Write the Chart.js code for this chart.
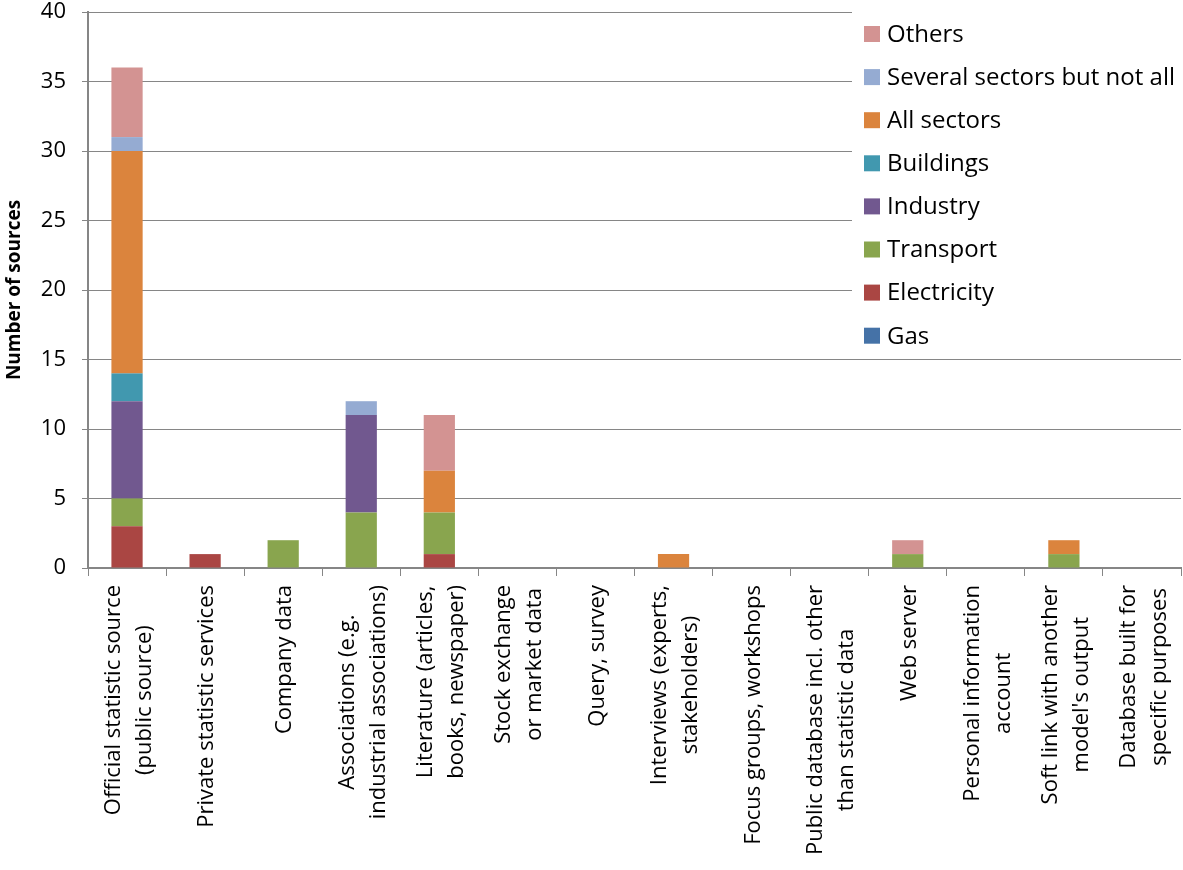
<!DOCTYPE html>
<html>
<head>
<meta charset="utf-8">
<script src="https://cdn.jsdelivr.net/npm/chart.js@4/dist/chart.umd.min.js"></script>
<style>
  html, body { margin: 0; padding: 0; background: #fff; }
  #wrap { width: 1183px; height: 870px; }
</style>
</head>
<body>
<div id="wrap"><canvas id="sources" width="1183" height="870"></canvas></div>
<script>
// categories (multi-line labels)
const categories = [
  ['Official statistic source', '(public source)'],
  ['Private statistic services'],
  ['Company data'],
  ['Associations (e.g.', 'industrial associations)'],
  ['Literature (articles,', 'books, newspaper)'],
  ['Stock exchange', 'or market data'],
  ['Query, survey'],
  ['Interviews (experts,', 'stakeholders)'],
  ['Focus groups, workshops'],
  ['Public database incl. other', 'than statistic data'],
  ['Web server'],
  ['Personal information', 'account'],
  ['Soft link with another', "model's output"],
  ['Database built for', 'specific purposes']
];

const gas         = [0, 0, 0, 0, 0, 0, 0, 0, 0, 0, 0, 0, 0, 0];
const electricity = [3, 1, 0, 0, 1, 0, 0, 0, 0, 0, 0, 0, 0, 0];
const transport   = [2, 0, 2, 4, 3, 0, 0, 0, 0, 0, 1, 0, 1, 0];
const industry    = [7, 0, 0, 7, 0, 0, 0, 0, 0, 0, 0, 0, 0, 0];
const buildings   = [2, 0, 0, 0, 0, 0, 0, 0, 0, 0, 0, 0, 0, 0];
const allSectors  = [16, 0, 0, 0, 3, 0, 0, 1, 0, 0, 0, 0, 1, 0];
const several     = [1, 0, 0, 1, 0, 0, 0, 0, 0, 0, 0, 0, 0, 0];
const others      = [5, 0, 0, 0, 4, 0, 0, 0, 0, 0, 1, 0, 0, 0];

const yTicks = [0, 5, 10, 15, 20, 25, 30, 35, 40];

const FONT = '"Open Sans", "DejaVu Sans", sans-serif';
const AXIS_GREY = '#868686';

function ds(label, data, color) {
  return { label, data, backgroundColor: color, borderWidth: 0 };
}

// legend drawn on a white panel over the upper right of the plot
const boxedLegend = {
  id: 'boxedLegend',
  afterDraw(chart) {
    const ctx = chart.ctx;
    ctx.save();
    ctx.fillStyle = '#fff';
    ctx.fillRect(852, 0, 340, 357);
    ctx.font = '24px ' + FONT;
    ctx.textBaseline = 'middle';
    const items = chart.data.datasets.slice().reverse();
    items.forEach((d, i) => {
      const y = 34 + i * 43.1;
      ctx.fillStyle = d.backgroundColor;
      ctx.fillRect(864, y - 8, 16, 16);
      ctx.fillStyle = '#000';
      ctx.fillText(d.label, 887, y + 1);
    });
    ctx.restore();
  }
};

// vertical category labels, each line centred on the longest one
const verticalLabels = {
  id: 'verticalLabels',
  afterDraw(chart) {
    const ctx = chart.ctx;
    const xs = chart.scales.x;
    const top = xs.top + 17;
    const lineGap = 31;
    ctx.save();
    ctx.font = '22px ' + FONT;
    ctx.fillStyle = '#000';
    ctx.textAlign = 'right';
    ctx.textBaseline = 'middle';
    chart.data.labels.forEach((lines, i) => {
      const cx = xs.getPixelForTick(i) + 2;
      const widths = lines.map(l => ctx.measureText(l).width);
      const longest = Math.max(...widths);
      lines.forEach((line, j) => {
        const x = cx + (j - (lines.length - 1) / 2) * lineGap;
        const y = top + (longest - widths[j]) / 2;
        ctx.save();
        ctx.translate(x, y);
        ctx.rotate(-Math.PI / 2);
        ctx.fillText(line, 0, 0);
        ctx.restore();
      });
    });
    ctx.restore();
  }
};

new Chart(document.getElementById('sources'), {
  type: 'bar',
  data: {
    labels: categories,
    datasets: [
      ds('Gas', gas, '#4572A7'),
      ds('Electricity', electricity, '#AA4643'),
      ds('Transport', transport, '#89A54E'),
      ds('Industry', industry, '#71588F'),
      ds('Buildings', buildings, '#4198AF'),
      ds('All sectors', allSectors, '#DB843D'),
      ds('Several sectors but not all', several, '#95ABD2'),
      ds('Others', others, '#D39392')
    ]
  },
  options: {
    responsive: false,
    animation: false,
    devicePixelRatio: 1,
    barPercentage: 0.4,
    categoryPercentage: 1.0,
    layout: { padding: { top: 12, right: 2, left: 0, bottom: 0 } },
    plugins: {
      legend: { display: false },
      tooltip: { enabled: false }
    },
    scales: {
      x: {
        stacked: true,
        afterFit(scale) {
          scale.height = 302;
          scale.paddingLeft = 0;
          scale.paddingRight = 0;
        },
        grid: {
          offset: true,
          drawOnChartArea: false,
          color: AXIS_GREY,
          tickLength: 8
        },
        border: { color: AXIS_GREY, width: 2 },
        ticks: { display: false, autoSkip: false }
      },
      y: {
        stacked: true,
        min: 0,
        max: 40,
        afterFit(scale) {
          scale.width = 88;
          scale.paddingTop = 0;
          scale.paddingBottom = 0;
        },
        afterBuildTicks(scale) { scale.ticks = yTicks.map(v => ({ value: v })); },
        grid: { color: AXIS_GREY, tickLength: 6 },
        border: { color: AXIS_GREY, width: 2 },
        ticks: {
          color: '#000',
          padding: 16,
          font: { family: FONT, size: 22 }
        },
        title: {
          display: true,
          text: 'Number of sources',
          color: '#000',
          padding: { top: 3, bottom: 4 },
          font: { family: FONT, size: 19, weight: 'bold' }
        }
      }
    }
  },
  plugins: [boxedLegend, verticalLabels]
});
</script>
</body>
</html>
